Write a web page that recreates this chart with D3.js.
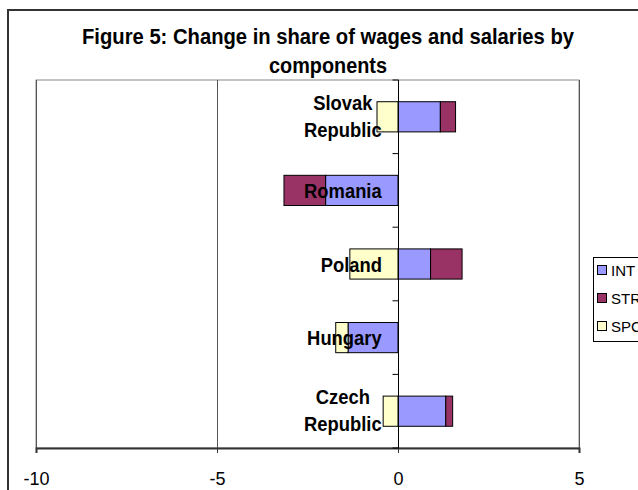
<!DOCTYPE html>
<html>
<head>
<meta charset="utf-8">
<script src="https://cdn.jsdelivr.net/npm/d3@7"></script>
<style>
  body { margin: 0; background: #fff; }
  text { font-family: Arial, "Liberation Sans", sans-serif; }
</style>
</head>
<body>
<div id="chart-container"></div>
<script>
// data
const categories = ["Slovak Republic", "Romania", "Poland", "Hungary", "Czech Republic"];
const labelLines = [["Slovak", "Republic"], ["Romania"], ["Poland"], ["Hungary"], ["Czech", "Republic"]];
const seriesNames = ["INT", "STR", "SPC"];
const intValues = [1.17, -2.0, 0.9, -1.38, 1.32];
const strValues = [0.42, -1.15, 0.87, 0, 0.19];
const spcValues = [-0.58, 0, -1.33, -0.34, -0.41];
const xTicks = [-10, -5, 0, 5];
const colors = ["#9999ff", "#993366", "#ffffcc"];

const width = 638;
const height = 490;
const plot = { left: 36, right: 579, top: 80, bottom: 448 };

const rows = categories.map((c, i) => ({
  cat: c, INT: intValues[i], STR: strValues[i], SPC: spcValues[i]
}));

const svg = d3.select("#chart-container")
  .append("svg")
  .attr("width", width)
  .attr("height", height);

// outer chart border (runs off the page on the right and bottom)
svg.append("rect")
  .attr("x", 8).attr("y", 10)
  .attr("width", 700).attr("height", 600)
  .attr("fill", "#fff")
  .attr("stroke", "#333")
  .attr("stroke-width", 2);

// title
const title = svg.append("g").attr("font-weight", "bold").attr("fill", "#000");
[["Figure 5: Change in share of wages and salaries by", 44, 492],
 ["components", 73, 118]].forEach(([t, y, w]) => {
  title.append("text")
    .attr("x", 328 - w / 2).attr("y", y)
    .attr("font-size", 22)
    .attr("textLength", w)
    .attr("lengthAdjust", "spacingAndGlyphs")
    .text(t);
});

// scales
const x = d3.scaleLinear().domain([-10, 5]).range([plot.left, plot.right]);
const y = d3.scaleBand().domain(categories).range([plot.top, plot.bottom]);
const barH = y.step() * 0.41;

// plot border
svg.append("rect")
  .attr("x", plot.left).attr("y", plot.top)
  .attr("width", plot.right - plot.left).attr("height", plot.bottom - plot.top)
  .attr("fill", "none")
  .attr("stroke", "#888")
  .attr("stroke-width", 1);

// vertical gridlines
svg.append("g")
  .selectAll("line")
  .data(xTicks.filter(d => d !== 0))
  .enter()
  .append("line")
  .attr("x1", d => x(d) + 0.5).attr("x2", d => x(d) + 0.5)
  .attr("y1", plot.top).attr("y2", plot.bottom)
  .attr("stroke", "#555")
  .attr("stroke-width", 1);

// bottom axis
const xAxis = svg.append("g")
  .attr("transform", "translate(0," + plot.bottom + ")")
  .call(d3.axisBottom(x).tickValues(xTicks).tickSize(5).tickPadding(19).tickFormat(d3.format("d")));
xAxis.select(".domain").attr("stroke", "#333").attr("stroke-width", 2);
xAxis.selectAll(".tick line").attr("stroke", "#333");
xAxis.selectAll("text")
  .attr("font-size", 18)
  .attr("font-family", "Arial, 'Liberation Sans', sans-serif")
  .attr("fill", "#000")
  .text(d => d < 0 ? "-" + Math.abs(d) : d);

// stacked bars
const stack = d3.stack().keys(seriesNames).offset(d3.stackOffsetDiverging);
const series = stack(rows);

svg.append("g")
  .selectAll("g")
  .data(series)
  .enter()
  .append("g")
  .attr("fill", (d, i) => colors[i])
  .selectAll("rect")
  .data(d => d.filter(p => p[1] !== p[0]))
  .enter()
  .append("rect")
  .attr("x", d => x(Math.min(d[0], d[1])))
  .attr("y", d => y(d.data.cat) + (y.step() - barH) / 2)
  .attr("width", d => Math.abs(x(d[1]) - x(d[0])))
  .attr("height", barH)
  .attr("stroke", "#000")
  .attr("stroke-width", 1);

// category axis at zero
const x0 = Math.round(x(0)) + 0.5;
svg.append("line")
  .attr("x1", x0).attr("x2", x0)
  .attr("y1", plot.top).attr("y2", plot.bottom)
  .attr("stroke", "#000");
svg.append("g")
  .selectAll("line")
  .data(d3.range(categories.length + 1))
  .enter()
  .append("line")
  .attr("x1", x0 - 6).attr("x2", x0)
  .attr("y1", i => plot.top + i * y.step())
  .attr("y2", i => plot.top + i * y.step())
  .attr("stroke", "#000");

// category labels
const labels = svg.append("g").attr("font-weight", "bold").attr("font-size", 20).attr("fill", "#000");
categories.forEach((c, i) => {
  const lines = labelLines[i];
  const cy = y(c) + y.step() / 2;
  const g = labels.append("g");
  lines.forEach((l, j) => {
    const by = lines.length === 1 ? cy + 7.5 : cy + (j === 0 ? -7 : 20);
    g.append("text")
      .attr("text-anchor", "middle")
      .attr("transform", "translate(0," + by + ") scale(0.92,1)")
      .text(l);
  });
  // right-align the block against the axis
  const bb = g.node().getBBox();
  g.attr("transform", "translate(" + (382 - (bb.x + bb.width)) + ",0)");
});

// legend
const legend = svg.append("g");
legend.append("rect")
  .attr("x", 593.5).attr("y", 257.5)
  .attr("width", 60).attr("height", 84)
  .attr("fill", "#fff")
  .attr("stroke", "#000");
seriesNames.forEach((s, i) => {
  const ly = 271 + i * 28;
  legend.append("rect")
    .attr("x", 597.5).attr("y", ly - 5.5)
    .attr("width", 9).attr("height", 9)
    .attr("fill", colors[i])
    .attr("stroke", "#000");
  legend.append("text")
    .attr("x", 611).attr("y", ly + 5)
    .attr("font-size", 15)
    .attr("fill", "#000")
    .text(s);
});
</script>
</body>
</html>
